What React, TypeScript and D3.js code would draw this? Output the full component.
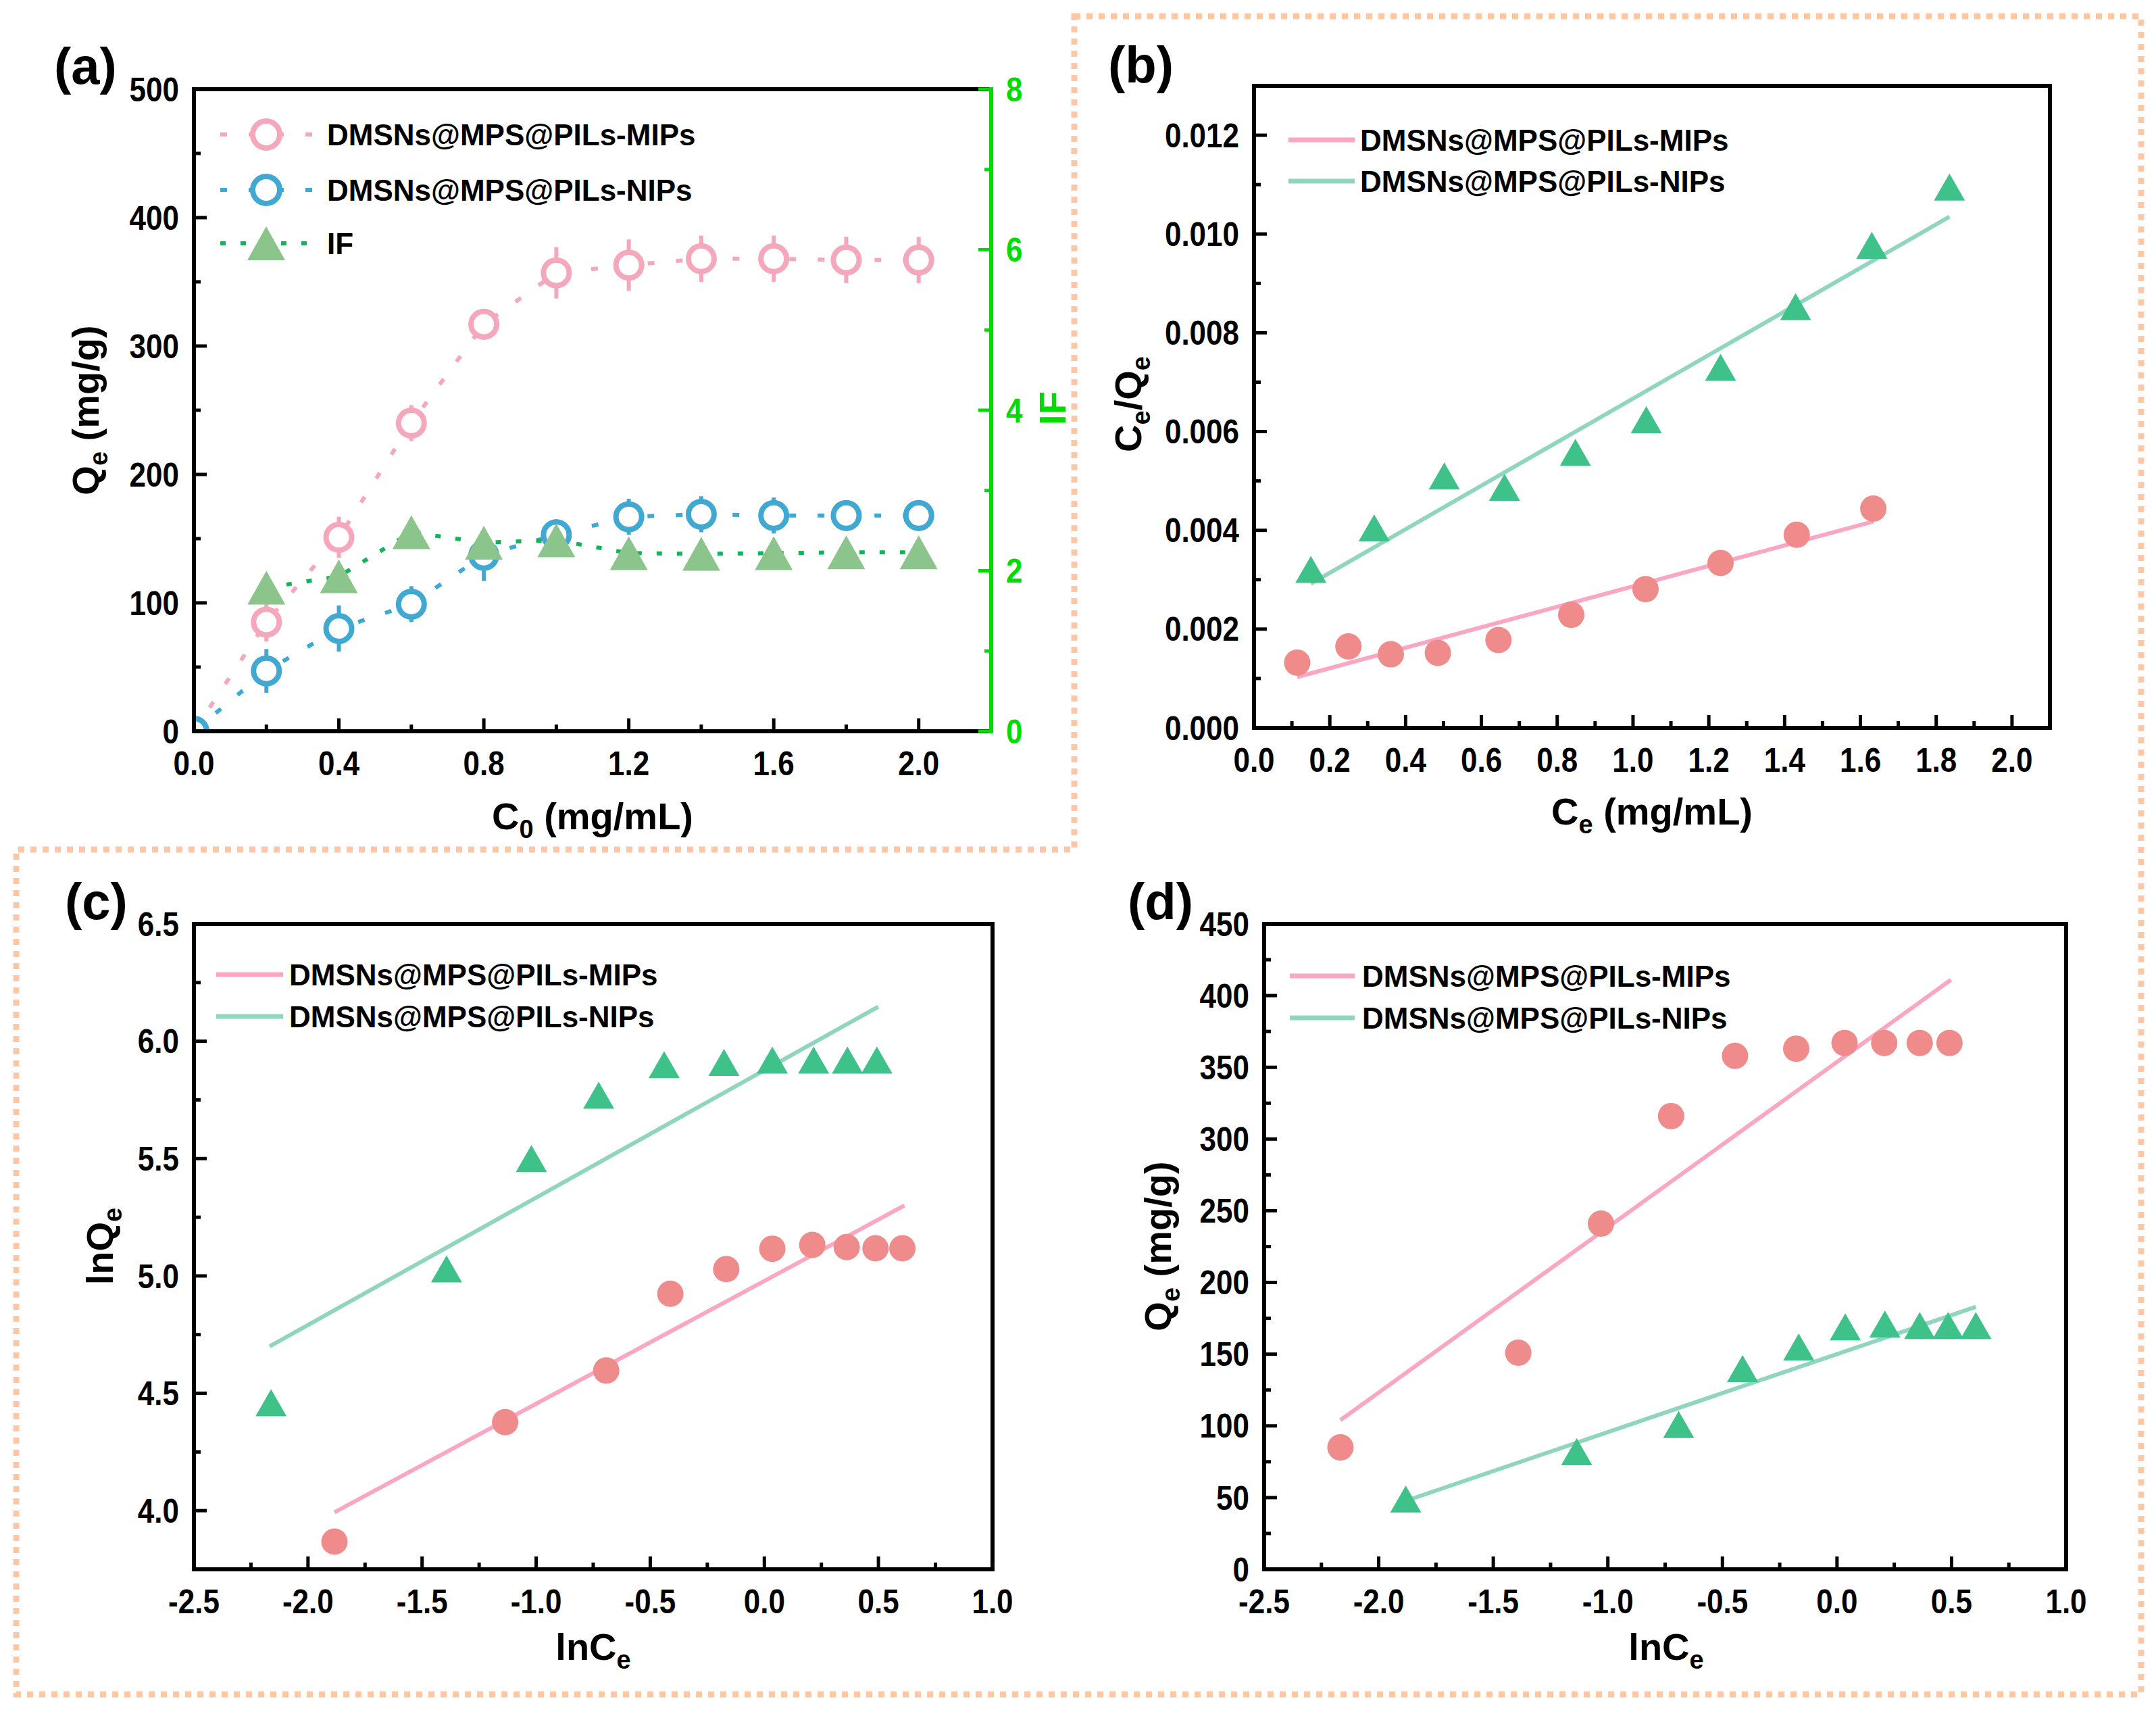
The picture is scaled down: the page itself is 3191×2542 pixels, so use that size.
import React from 'react';
import * as d3 from 'd3';

const W = 3191;
const H = 2542;
const FONT = "'Liberation Sans', Arial, Helvetica, sans-serif";
const TICK_FS = 44;
const STRETCH = 1.12;
const TITLE_FS = 56;
const SUB_FS = 38;
const LEGEND_FS = 44;
const MAJOR = 19;
const MINOR = 10;
const AXIS_W = 6;

const PINK_OPEN = '#F5A7BC';
const BLUE_OPEN = '#41A8D2';
const IF_FILL = '#8BC58B';
const IF_LINE = '#12B45A';
const AXIS_GREEN = '#00DC00';
const DOT_PINK = '#F08B8B';
const TRI_GREEN = '#3FC28A';
const FIT_PINK = '#FBA6C3';
const FIT_TEAL = '#90D5BE';
const BORDER = '#FFC7A3';

const seriesNames = ['DMSNs@MPS@PILs-MIPs', 'DMSNs@MPS@PILs-NIPs'];

// (a) adsorption isotherms, C0 in mg/mL
const c0 = [0, 0.2, 0.4, 0.6, 0.8, 1.0, 1.2, 1.4, 1.6, 1.8, 2.0];
const qeMIP = [0, 85, 151, 240, 317, 357, 363, 368, 368, 367, 367];
const qeMIPErr = [0, 15, 16, 14, 12, 20, 20, 18, 18, 18, 18];
const qeNIP = [0, 47, 80, 99, 137, 153, 167, 169, 168, 168, 168];
const qeNIPErr = [0, 17, 18, 14, 20, 12, 14, 14, 14, 12, 12];
const c0IF = [0.2, 0.4, 0.6, 0.8, 1.0, 1.2, 1.4, 1.6, 1.8, 2.0];
const imprintFactor = [1.79, 1.93, 2.48, 2.35, 2.38, 2.22, 2.21, 2.22, 2.23, 2.23];
const aXTicks = [0, 0.4, 0.8, 1.2, 1.6, 2.0];
const aYTicks = [0, 100, 200, 300, 400, 500];
const aIFTicks = [0, 2, 4, 6, 8];

// (b) Langmuir plot: Ce vs Ce/Qe
const ceMIP = [0.114, 0.249, 0.361, 0.485, 0.645, 0.837, 1.033, 1.231, 1.432, 1.634];
const ceQeMIP = [0.00132, 0.00165, 0.00149, 0.00152, 0.00178, 0.00229, 0.00281, 0.00334, 0.00391, 0.00444];
const ceNIP = [0.150, 0.317, 0.502, 0.661, 0.848, 1.035, 1.231, 1.429, 1.630, 1.835];
const ceQeNIP = [0.00321, 0.00405, 0.0051, 0.00487, 0.00558, 0.00624, 0.0073, 0.00853, 0.00977, 0.01095];
const bFitMIP = [[0.114, 0.00103], [1.634, 0.00418]];
const bFitNIP = [[0.150, 0.00292], [1.835, 0.01035]];
const bXTicks = [0, 0.2, 0.4, 0.6, 0.8, 1.0, 1.2, 1.4, 1.6, 1.8, 2.0];
const bYTicks = [0, 0.002, 0.004, 0.006, 0.008, 0.010, 0.012];

// (c) Freundlich plot: lnCe vs lnQe
const cLnCeTri = [-2.162, -1.393, -1.021, -0.726, -0.439, -0.177, 0.035, 0.216, 0.364, 0.493];
const cLnQeTri = [4.46, 5.03, 5.50, 5.77, 5.90, 5.91, 5.92, 5.92, 5.92, 5.92];
const cLnCeDot = [-1.884, -1.136, -0.693, -0.412, -0.167, 0.035, 0.210, 0.361, 0.487, 0.605];
const cLnQeDot = [3.868, 4.377, 4.597, 4.924, 5.029, 5.116, 5.132, 5.123, 5.118, 5.118];
const cFitMIP = [[-1.884, 3.993], [0.614, 5.30]];
const cFitNIP = [[-2.168, 4.70], [0.499, 6.147]];
const lnXTicks = [-2.5, -2.0, -1.5, -1.0, -0.5, 0, 0.5, 1.0];
const cYTicks = [4.0, 4.5, 5.0, 5.5, 6.0, 6.5];

// (d) Temkin plot: lnCe vs Qe
const dLnCeDot = [-2.167, -1.391, -1.030, -0.724, -0.445, -0.178, 0.033, 0.206, 0.361, 0.491];
const dQeDot = [85, 151, 241, 316, 358, 363, 367, 367, 367, 367];
const dLnCeTri = [-1.882, -1.136, -0.691, -0.412, -0.167, 0.036, 0.209, 0.361, 0.485, 0.606];
const dQeTri = [49, 82, 101, 140, 155, 169, 171, 170, 170, 170];
const dFitMIP = [[-2.167, 104], [0.497, 411]];
const dFitNIP = [[-1.882, 47.7], [0.606, 183]];
const dYTicks = [0, 50, 100, 150, 200, 250, 300, 350, 400, 450];

type Box = { left: number; right: number; top: number; bottom: number };

const aBox: Box = { left: 287, right: 1467, top: 132, bottom: 1082 };
const bBox: Box = { left: 1856, right: 3034, top: 127, bottom: 1077 };
const cBox: Box = { left: 287, right: 1469, top: 1367, bottom: 2322 };
const dBox: Box = { left: 1871, right: 3058, top: 1367, bottom: 2322 };

const mids = (t: number[]) => d3.pairs(t).map(([a, b]) => (a + b) / 2);

// d3.format writes a unicode minus; the axes use a plain hyphen
const fmt = (spec: string) => {
  const f = d3.format(spec);
  return (v: number) => f(v).replace('\u2212', '-');
};

function TickText({ x, y, anchor, fill = '#000', children }: any) {
  return (
    <text
      transform={`translate(${x},${y}) scale(1,${STRETCH})`}
      textAnchor={anchor}
      fontFamily={FONT}
      fontWeight="bold"
      fontSize={TICK_FS}
      fill={fill}
    >
      {children}
    </text>
  );
}

function Axes({ box, x, y, xTicks, yTicks, xFmt, yFmt, rightColor = '#000' }: any) {
  const base = TICK_FS * 0.358 * STRETCH;
  return (
    <g>
      {xTicks.map((v: number) => (
        <line key={'xM' + v} x1={x(v)} x2={x(v)} y1={box.bottom} y2={box.bottom - MAJOR} stroke="#000" strokeWidth={5} />
      ))}
      {mids(xTicks).map((v: number) => (
        <line key={'xm' + v} x1={x(v)} x2={x(v)} y1={box.bottom} y2={box.bottom - MINOR} stroke="#000" strokeWidth={5} />
      ))}
      {yTicks.map((v: number) => (
        <line key={'yM' + v} x1={box.left} x2={box.left + MAJOR} y1={y(v)} y2={y(v)} stroke="#000" strokeWidth={5} />
      ))}
      {mids(yTicks).map((v: number) => (
        <line key={'ym' + v} x1={box.left} x2={box.left + MINOR} y1={y(v)} y2={y(v)} stroke="#000" strokeWidth={5} />
      ))}
      {xTicks.map((v: number) => (
        <TickText key={'xl' + v} x={x(v)} y={box.bottom + 47 + base} anchor="middle">{xFmt(v)}</TickText>
      ))}
      {yTicks.map((v: number) => (
        <TickText key={'yl' + v} x={box.left - 22} y={y(v) + base} anchor="end">{yFmt(v)}</TickText>
      ))}
      <path
        d={`M${box.right},${box.top}H${box.left}V${box.bottom}H${box.right}`}
        fill="none"
        stroke="#000"
        strokeWidth={AXIS_W}
        strokeLinecap="square"
      />
      <line x1={box.right} x2={box.right} y1={box.top} y2={box.bottom} stroke={rightColor} strokeWidth={AXIS_W} strokeLinecap="square" />
    </g>
  );
}

function Triangle({ cx, cy, w, h, fill }: any) {
  return <path d={`M${cx},${cy - h / 2}L${cx + w / 2},${cy + h / 2}L${cx - w / 2},${cy + h / 2}Z`} fill={fill} />;
}

function Title({ x, y, main, sub, rest, rotate = false, fill = '#000' }: any) {
  const transform = rotate ? `translate(${x},${y}) rotate(-90)` : `translate(${x},${y})`;
  return (
    <text transform={transform} textAnchor="middle" dy="0.36em" fontFamily={FONT} fontWeight="bold" fontSize={TITLE_FS} fill={fill}>
      {main}
      {sub && <tspan fontSize={SUB_FS} dy={13}>{sub}</tspan>}
      {rest && <tspan dy={sub ? -13 : 0}>{rest}</tspan>}
    </text>
  );
}

function PanelLabel({ x, y, text }: any) {
  return (
    <text x={x} y={y} fontFamily={FONT} fontWeight="bold" fontSize={76}>{text}</text>
  );
}

function LegendText({ x, y, text }: any) {
  return (
    <text x={x} y={y} dy="0.36em" fontFamily={FONT} fontWeight="bold" fontSize={LEGEND_FS}>{text}</text>
  );
}

function FitLine({ x, y, pts, color }: any) {
  const line = d3.line<number[]>().x((d) => x(d[0])).y((d) => y(d[1]));
  return <path d={line(pts) || ''} fill="none" stroke={color} strokeWidth={6} />;
}

function LineLegend({ x0, x1, tx, rows }: any) {
  return (
    <g>
      {rows.map((r: any) => (
        <g key={r.name}>
          <line x1={x0} x2={x1} y1={r.y} y2={r.y} stroke={r.color} strokeWidth={7} />
          <LegendText x={tx} y={r.y} text={r.name} />
        </g>
      ))}
    </g>
  );
}

function PanelA() {
  const x = d3.scaleLinear([0, 2.2], [aBox.left, aBox.right]);
  const y = d3.scaleLinear([0, 500], [aBox.bottom, aBox.top]);
  const yR = d3.scaleLinear([0, 8], [aBox.bottom, aBox.top]);
  const mipPath = d3.line<number>().x((_, i) => x(c0[i])).y((d) => y(d))(qeMIP) || '';
  const nipPath = d3.line<number>().x((_, i) => x(c0[i])).y((d) => y(d))(qeNIP) || '';
  const ifPath = d3.line<number>().x((_, i) => x(c0IF[i])).y((d) => yR(d))(imprintFactor) || '';
  const dash = '10 32';
  const base = TICK_FS * 0.358 * STRETCH;

  const openSeries = [
    { vals: qeMIP, err: qeMIPErr, color: PINK_OPEN },
    { vals: qeNIP, err: qeNIPErr, color: BLUE_OPEN },
  ];

  return (
    <g>
      <defs>
        <clipPath id="clipA">
          <rect x={aBox.left} y={aBox.top} width={aBox.right - aBox.left} height={aBox.bottom - aBox.top} />
        </clipPath>
      </defs>
      <g clipPath="url(#clipA)">
        <path d={mipPath} fill="none" stroke={PINK_OPEN} strokeWidth={6} strokeDasharray={dash} />
        <path d={nipPath} fill="none" stroke={BLUE_OPEN} strokeWidth={6} strokeDasharray={dash} />
        <path d={ifPath} fill="none" stroke={IF_LINE} strokeWidth={6} strokeDasharray="8 22" />
        {openSeries.map((s, si) => (
          <g key={si}>
            {s.vals.map((v, i) => (
              <g key={i}>
                <line x1={x(c0[i])} x2={x(c0[i])} y1={y(v - s.err[i])} y2={y(v + s.err[i])} stroke={s.color} strokeWidth={6} />
                <circle cx={x(c0[i])} cy={y(v)} r={19} fill="#fff" stroke={s.color} strokeWidth={8} />
              </g>
            ))}
          </g>
        ))}
        {imprintFactor.map((v, i) => (
          <Triangle key={i} cx={x(c0IF[i])} cy={yR(v)} w={56} h={50} fill={IF_FILL} />
        ))}
      </g>

      {/* legend */}
      {[
        { y: 199, color: PINK_OPEN, name: seriesNames[0], kind: 'circle' },
        { y: 281, color: BLUE_OPEN, name: seriesNames[1], kind: 'circle' },
        { y: 360, color: IF_LINE, name: 'IF', kind: 'tri' },
      ].map((r) => (
        <g key={r.name}>
          <line x1={326} x2={466} y1={r.y} y2={r.y} stroke={r.color} strokeWidth={6} strokeDasharray={r.kind === 'tri' ? '8 22' : dash} />
          {r.kind === 'circle' ? (
            <circle cx={394} cy={r.y} r={20} fill="#fff" stroke={r.color} strokeWidth={8} />
          ) : (
            <Triangle cx={394} cy={r.y} w={56} h={50} fill={IF_FILL} />
          )}
          <LegendText x={484} y={r.y} text={r.name} />
        </g>
      ))}

      <Axes
        box={aBox}
        x={x}
        y={y}
        xTicks={aXTicks}
        yTicks={aYTicks}
        xFmt={fmt('.1f')}
        yFmt={fmt('d')}
        rightColor={AXIS_GREEN}
      />
      {/* right IF axis */}
      {aIFTicks.map((v) => (
        <line key={'r' + v} x1={aBox.right} x2={aBox.right - MAJOR} y1={yR(v)} y2={yR(v)} stroke={AXIS_GREEN} strokeWidth={5} />
      ))}
      {mids(aIFTicks).map((v) => (
        <line key={'rm' + v} x1={aBox.right} x2={aBox.right - MINOR} y1={yR(v)} y2={yR(v)} stroke={AXIS_GREEN} strokeWidth={5} />
      ))}
      {aIFTicks.map((v) => (
        <TickText key={'rl' + v} x={aBox.right + 22} y={yR(v) + base} anchor="start" fill={AXIS_GREEN}>{v}</TickText>
      ))}

      <Title x={877} y={1207} main="C" sub="0" rest=" (mg/mL)" />
      <Title x={126} y={607} main="Q" sub="e" rest=" (mg/g)" rotate />
      <Title x={1557} y={604} main="IF" rotate fill={AXIS_GREEN} />
      <PanelLabel x={80} y={124} text="(a)" />
    </g>
  );
}

function PanelB() {
  const x = d3.scaleLinear([0, 2.1], [bBox.left, bBox.right]);
  const y = d3.scaleLinear([0, 0.013], [bBox.bottom, bBox.top]);
  return (
    <g>
      <FitLine x={x} y={y} pts={bFitMIP} color={FIT_PINK} />
      <FitLine x={x} y={y} pts={bFitNIP} color={FIT_TEAL} />
      {ceMIP.map((v, i) => (
        <circle key={'c' + i} cx={x(v)} cy={y(ceQeMIP[i])} r={19.5} fill={DOT_PINK} />
      ))}
      {ceNIP.map((v, i) => (
        <Triangle key={'t' + i} cx={x(v)} cy={y(ceQeNIP[i])} w={46} h={40} fill={TRI_GREEN} />
      ))}
      <LineLegend
        x0={1907}
        x1={2005}
        tx={2013}
        rows={[
          { y: 207, color: FIT_PINK, name: seriesNames[0] },
          { y: 268, color: FIT_TEAL, name: seriesNames[1] },
        ]}
      />
      <Axes box={bBox} x={x} y={y} xTicks={bXTicks} yTicks={bYTicks} xFmt={fmt('.1f')} yFmt={fmt('.3f')} />
      <Title x={2445} y={1200} main="C" sub="e" rest=" (mg/mL)" />
      <text
        transform="translate(1669,598) rotate(-90)"
        textAnchor="middle"
        dy="0.36em"
        fontFamily={FONT}
        fontWeight="bold"
        fontSize={TITLE_FS}
      >
        C<tspan fontSize={SUB_FS} dy={13}>e</tspan>
        <tspan dy={-13}>/Q</tspan>
        <tspan fontSize={SUB_FS} dy={13}>e</tspan>
      </text>
      <PanelLabel x={1640} y={122} text="(b)" />
    </g>
  );
}

function PanelC() {
  const x = d3.scaleLinear([-2.5, 1.0], [cBox.left, cBox.right]);
  const y = d3.scaleLinear([3.75, 6.5], [cBox.bottom, cBox.top]);
  return (
    <g>
      <FitLine x={x} y={y} pts={cFitMIP} color={FIT_PINK} />
      <FitLine x={x} y={y} pts={cFitNIP} color={FIT_TEAL} />
      {cLnCeDot.map((v, i) => (
        <circle key={'c' + i} cx={x(v)} cy={y(cLnQeDot[i])} r={19.5} fill={DOT_PINK} />
      ))}
      {cLnCeTri.map((v, i) => (
        <Triangle key={'t' + i} cx={x(v)} cy={y(cLnQeTri[i])} w={46} h={40} fill={TRI_GREEN} />
      ))}
      <LineLegend
        x0={320}
        x1={419}
        tx={428}
        rows={[
          { y: 1442, color: FIT_PINK, name: seriesNames[0] },
          { y: 1504, color: FIT_TEAL, name: seriesNames[1] },
        ]}
      />
      <Axes box={cBox} x={x} y={y} xTicks={lnXTicks} yTicks={cYTicks} xFmt={fmt('.1f')} yFmt={fmt('.1f')} />
      <Title x={878} y={2436} main="lnC" sub="e" />
      <Title x={147} y={1844} main="lnQ" sub="e" rotate />
      <PanelLabel x={96} y={1360} text="(c)" />
    </g>
  );
}

function PanelD() {
  const x = d3.scaleLinear([-2.5, 1.0], [dBox.left, dBox.right]);
  const y = d3.scaleLinear([0, 450], [dBox.bottom, dBox.top]);
  return (
    <g>
      <FitLine x={x} y={y} pts={dFitMIP} color={FIT_PINK} />
      <FitLine x={x} y={y} pts={dFitNIP} color={FIT_TEAL} />
      {dLnCeDot.map((v, i) => (
        <circle key={'c' + i} cx={x(v)} cy={y(dQeDot[i])} r={19.5} fill={DOT_PINK} />
      ))}
      {dLnCeTri.map((v, i) => (
        <Triangle key={'t' + i} cx={x(v)} cy={y(dQeTri[i])} w={46} h={40} fill={TRI_GREEN} />
      ))}
      <LineLegend
        x0={1909}
        x1={2005}
        tx={2016}
        rows={[
          { y: 1444, color: FIT_PINK, name: seriesNames[0] },
          { y: 1506, color: FIT_TEAL, name: seriesNames[1] },
        ]}
      />
      <Axes box={dBox} x={x} y={y} xTicks={lnXTicks} yTicks={dYTicks} xFmt={fmt('.1f')} yFmt={fmt('d')} />
      <Title x={2466} y={2436} main="lnC" sub="e" />
      <Title x={1713} y={1844} main="Q" sub="e" rest=" (mg/g)" rotate />
      <PanelLabel x={1669} y={1360} text="(d)" />
    </g>
  );
}

export default function App() {
  return (
    <svg
      width={W}
      height={H}
      viewBox={`0 0 ${W} ${H}`}
      style={{ position: 'absolute', left: 0, top: 0, display: 'block' }}
    >
      <rect width={W} height={H} fill="#fff" />
      {/* dotted frame around panels b, c and d */}
      <path
        d="M1590,24H3169V2507H24V1257H1590Z"
        fill="none"
        stroke={BORDER}
        strokeWidth={9}
        strokeDasharray="9 9"
      />
      <PanelA />
      <PanelB />
      <PanelC />
      <PanelD />
    </svg>
  );
}
